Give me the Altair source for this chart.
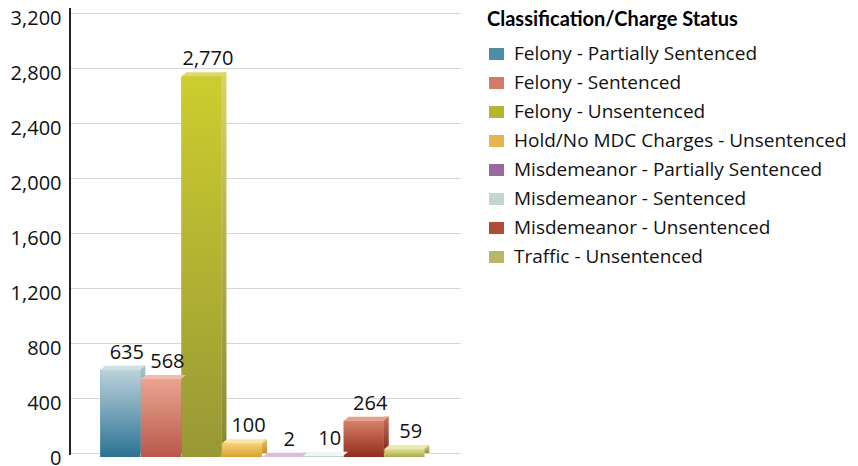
import altair as alt
import pandas as pd

categories = [
    "Felony - Partially Sentenced",
    "Felony - Sentenced",
    "Felony - Unsentenced",
    "Hold/No MDC Charges - Unsentenced",
    "Misdemeanor - Partially Sentenced",
    "Misdemeanor - Sentenced",
    "Misdemeanor - Unsentenced",
    "Traffic - Unsentenced",
]
values = [635, 568, 2770, 100, 2, 10, 264, 59]
y_ticks = [0, 400, 800, 1200, 1600, 2000, 2400, 2800, 3200]

legend_colors = ["#4f8ca6", "#d47a68", "#b3b52e", "#e6b550", "#9a6a9f", "#c3d6d4", "#b14a36", "#b7b867"]
front_top = ["#bcd2da", "#e9a591", "#cdcd2e", "#f7d27a", "#c8a3cb", "#e6f0ef", "#d98066", "#e2e292"]
front_bottom = ["#2b7294", "#b9584a", "#979836", "#d9a02e", "#8c5b92", "#a9c5c1", "#8f2d1e", "#a9a951"]
top_face = ["#cfe0e5", "#f1bcac", "#dcdb6a", "#fbe4a4", "#dabcdc", "#f0f6f5", "#e3a08b", "#ebeaa9"]
side_top = ["#a9c3cc", "#d99886", "#d6d566", "#eec46c", "#b893bb", "#d6e4e2", "#c86f57", "#d3d37f"]
side_bottom = ["#276783", "#a64f42", "#878930", "#c48f29", "#7e5283", "#98b1ad", "#7f271a", "#979747"]

FONT = "Open Sans"
TITLE_FONT = "Lato"

df = pd.DataFrame({
    "cat": categories,
    "value": values,
    "top": top_face,
})

x_enc = alt.X(
    "cat:N",
    sort=categories,
    axis=None,
    scale=alt.Scale(paddingInner=0, paddingOuter=0.8065, align=0.459),
)
y_enc = alt.Y(
    "value:Q",
    scale=alt.Scale(domain=[0, 3200], nice=False),
    axis=alt.Axis(
        values=y_ticks,
        format=",d",
        title=None,
        grid=True,
        gridColor="#d6d6d6",
        gridWidth=1,
        domain=False,
        ticks=False,
        labelPadding=9,
        labelOffset=5,
        labelFontSize=20,
        labelFont=FONT,
        labelColor="#111111",
    ),
)

base = alt.Chart(df)

legend_layer = base.mark_bar(width=40, yOffset=4).encode(
    x=x_enc,
    y=y_enc,
    color=alt.Color(
        "cat:N",
        sort=categories,
        scale=alt.Scale(domain=categories, range=legend_colors),
        legend=alt.Legend(
            orient="none",
            legendX=417,
            legendY=-3.5,
            title="Classification/Charge Status",
            titleFont=TITLE_FONT,
            titleFontSize=20,
            titleFontWeight="bold",
            titleColor="#000000",
            titlePadding=15,
            titleLimit=600,
            labelFont=FONT,
            labelFontSize=19,
            labelColor="#111111",
            labelOffset=8,
            labelLimit=600,
            symbolType="M-1,-0.8L1,-0.8L1,0.8L-1,0.8Z",
            symbolSize=225,
            symbolStrokeWidth=0,
            symbolOpacity=1,
            rowPadding=9,
            padding=0,
        ),
    ),
)

layers = [legend_layer]
for i, cat in enumerate(categories):
    sub = base.transform_filter(alt.datum.cat == cat)
    side = sub.mark_bar(
        width=5,
        xOffset=22.5,
        color=alt.Gradient(
            gradient="linear",
            stops=[alt.GradientStop(color=side_top[i], offset=0),
                   alt.GradientStop(color=side_bottom[i], offset=1)],
            x1=0, x2=0, y1=0, y2=1,
        ),
    ).encode(x=x_enc, y=y_enc)
    front = sub.mark_bar(
        width=40,
        yOffset=4,
        color=alt.Gradient(
            gradient="linear",
            stops=[alt.GradientStop(color=front_top[i], offset=0),
                   alt.GradientStop(color=front_bottom[i], offset=1)],
            x1=0, x2=0, y1=0, y2=1,
        ),
    ).encode(x=x_enc, y=y_enc)
    layers += [side, front]

top_layer = base.mark_point(
    shape="M-0.8,0.16L0.8,0.16L1,0L-0.6,0Z",
    size=2500,
    filled=True,
    opacity=1,
    strokeWidth=0,
).encode(x=x_enc, y=y_enc, fill=alt.Fill("top:N", scale=None))

labels = base.mark_text(
    dx=6.5,
    dy=-7,
    baseline="alphabetic",
    align="center",
    fontSize=20,
    font=FONT,
    color="#111111",
).encode(x=x_enc, y=y_enc, text=alt.Text("value:Q", format=",d"))

axis_line = base.mark_rule(color="#222222", strokeWidth=1.5).encode(
    x=alt.value(0), y=alt.value(-9), y2=alt.value(442)
)

chart = alt.layer(*layers, top_layer, labels, axis_line).properties(
    width=390,
    height=440,
    padding={"left": 62, "top": 5, "right": 390, "bottom": 13},
    autosize=alt.AutoSizeParams(type="none"),
).configure_view(stroke=None)

chart.save("out.html", embed_options={"renderer": "svg", "actions": False})
